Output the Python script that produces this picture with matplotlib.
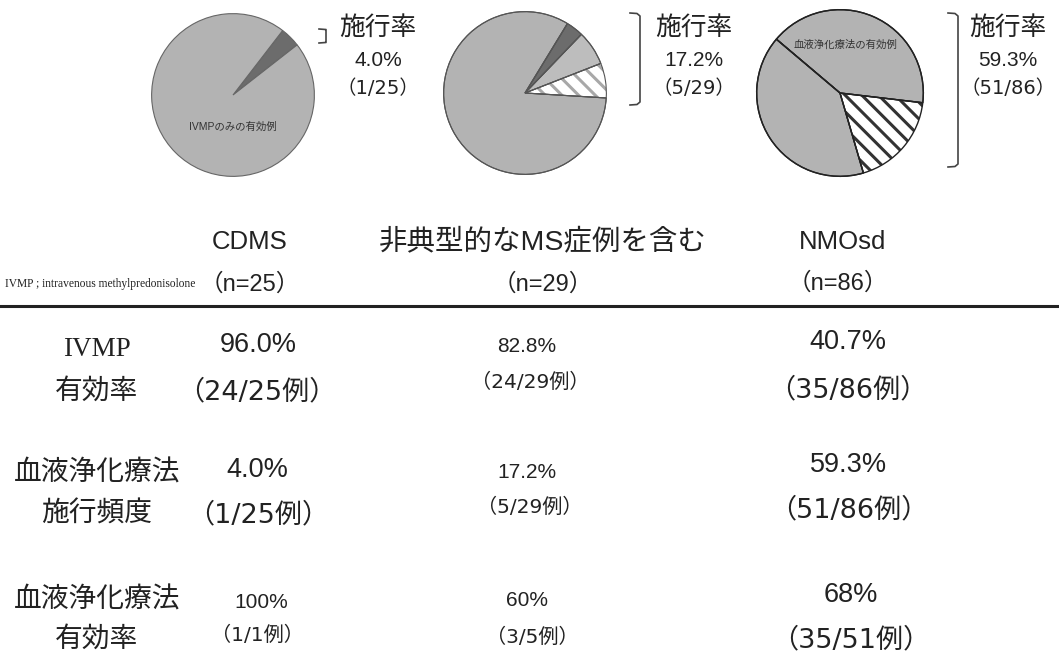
import matplotlib
matplotlib.use("Agg")
import matplotlib.pyplot as plt
from matplotlib.lines import Line2D

# ---------------- data ----------------
groups = ["CDMS", "非典型的なMS症例を含む", "NMOsd"]
group_n = ["（n=25）", "（n=29）", "（n=86）"]

# pie slices (counts)
pie1_values = [1, 24]              # PE effective, IVMP-only effective
pie2_values = [2, 2, 1, 24]        # PE ineffective, PE effective, PE effective, IVMP-only effective
pie3_values = [16, 35, 35]         # PE ineffective, PE effective, IVMP-only effective

pie_rate_title = "施行率"
pie_rate_pct = ["4.0%", "17.2%", "59.3%"]
pie_rate_frac = ["（1/25）", "（5/29）", "（51/86）"]
pie1_label = "IVMPのみの有効例"
pie3_label = "血液浄化療法の有効例"

row_labels = [("IVMP", "有効率"), ("血液浄化療法", "施行頻度"), ("血液浄化療法", "有効率")]
ivmp_pct = ["96.0%", "82.8%", "40.7%"]
ivmp_frac = ["（24/25例）", "（24/29例）", "（35/86例）"]
pe_freq_pct = ["4.0%", "17.2%", "59.3%"]
pe_freq_frac = ["（1/25例）", "（5/29例）", "（51/86例）"]
pe_eff_pct = ["100%", "60%", "68%"]
pe_eff_frac = ["（1/1例）", "（3/5例）", "（35/51例）"]
note = "IVMP ; intravenous methylpredonisolone"

# ---------------- figure ----------------
W, H = 1059, 655
plt.rcParams['font.family'] = ['Liberation Sans', 'Noto Sans CJK JP', 'DejaVu Sans']
plt.rcParams['hatch.linewidth'] = 2.2
fig = plt.figure(figsize=(W / 100, H / 100), dpi=100)
fig.patch.set_facecolor("white")
TXT = "#222222"
FRAC = ['DejaVu Sans', 'Noto Sans CJK JP']


def fx(x):
    return x / W


def fy(y):
    return 1 - y / H


def put(x, y, s, size, **kw):
    kw.setdefault("color", TXT)
    fig.text(fx(x), fy(y), s, fontsize=size, ha="center", va="center", **kw)


def pie_axes(cx, cy, r):
    ax = fig.add_axes([fx(cx - r), fy(cy + r), 2 * r / W, 2 * r / H])
    ax.set_axis_off()
    return ax


GREY = "#b3b3b3"
DARK = "#6c6c6c"

# pie 1
ax1 = pie_axes(233, 95, 83)
ax1.pie(pie1_values, colors=[DARK, GREY], startangle=38, counterclock=True,
        radius=1, wedgeprops=dict(edgecolor="#666666", linewidth=0.8))
ax1.set_xlim(-1.02, 1.02); ax1.set_ylim(-1.02, 1.02)
put(233, 127, pie1_label, 7.5, color="#333333")

# pie 2
ax2 = pie_axes(525, 93, 83)
w2, _ = ax2.pie(pie2_values, colors=["white", "#bdbdbd", DARK, GREY], startangle=-3.5,
                counterclock=True, radius=1,
                wedgeprops=dict(edgecolor="#555555", linewidth=0.8))
w2[0].set_hatch("\\\\")
w2[0].set_edgecolor("#a8a8a8")
w2[0].set_linewidth(0)
ax2.pie(pie2_values, colors=["none"] * 4, startangle=-3.5, counterclock=True, radius=1,
        wedgeprops=dict(edgecolor="#555555", linewidth=0.8, facecolor="none"))
ax2.set_xlim(-1.02, 1.02); ax2.set_ylim(-1.02, 1.02)

# pie 3
ax3 = pie_axes(840, 93, 85)
w3, _ = ax3.pie(pie3_values, colors=["white", GREY, GREY], startangle=-73.7,
                counterclock=True, radius=1,
                wedgeprops=dict(edgecolor="#222222", linewidth=1.0))
w3[0].set_hatch("\\\\")
w3[0].set_edgecolor("#333333")
w3[0].set_linewidth(0)
ax3.pie(pie3_values, colors=["none"] * 3, startangle=-73.7, counterclock=True, radius=1,
        wedgeprops=dict(edgecolor="#222222", linewidth=1.0, facecolor="none"))
ax3.set_xlim(-1.02, 1.02); ax3.set_ylim(-1.02, 1.02)
put(845, 45, pie3_label, 7.5, color="#333333")


# brackets
def bracket(x0, x1, top, bottom, c=3):
    xs = [fx(x0), fx(x1 - c), fx(x1), fx(x1), fx(x1 - c), fx(x0)]
    ys = [fy(top), fy(top + 0.5), fy(top + c), fy(bottom - c), fy(bottom - 0.5), fy(bottom)]
    fig.add_artist(Line2D(xs, ys, color="#444444", linewidth=1.2, transform=fig.transFigure))


bracket(319, 326, 29, 43, c=0.5)
bracket(630, 640, 13, 105)
bracket(948, 958, 13, 167)

pie_text_x = [378, 694, 1008]
for i in range(3):
    put(pie_text_x[i], 28, pie_rate_title, 18.5)
    put(pie_text_x[i], 60, pie_rate_pct[i], 15)
    put(pie_text_x[i], 88, pie_rate_frac[i], 14, family=FRAC)

# headers
col_x = [250, 543, 843]
for i in range(3):
    put(col_x[i], 242, groups[i], 18.5 if i != 1 else 20.5)
put(250, 285, group_n[0], 17)
put(543, 285, group_n[1], 17)
put(838, 283, group_n[2], 17)
fig.text(fx(5), fy(284), note, fontsize=8.3, ha="left", va="center", color=TXT,
         family=["Liberation Serif"])

# separator line
fig.add_artist(Line2D([0, 1], [fy(306), fy(306)], color="#222222", linewidth=2.2,
                      transform=fig.transFigure))

# row labels
put(97, 350, row_labels[0][0], 19.5, family=["Liberation Serif"])
put(97, 392, row_labels[0][1], 20)
put(97, 473, row_labels[1][0], 20)
put(97, 515, row_labels[1][1], 20)
put(97, 600, row_labels[2][0], 20)
put(97, 640, row_labels[2][1], 20)

BIG = 19.5
BIGF = 19.5
SMALL = 15
SMALLF = 14.5
# IVMP
put(258, 345, ivmp_pct[0], BIG)
put(257, 392, ivmp_frac[0], BIGF, family=FRAC)
put(527, 347, ivmp_pct[1], SMALL)
put(530, 382, ivmp_frac[1], SMALLF, family=FRAC)
put(848, 342, ivmp_pct[2], BIG)
put(848, 390, ivmp_frac[2], BIGF, family=FRAC)
# PE frequency
put(257, 470, pe_freq_pct[0], BIG)
put(258, 515, pe_freq_frac[0], BIGF, family=FRAC)
put(527, 473, pe_freq_pct[1], SMALL)
put(530, 507, pe_freq_frac[1], SMALLF, family=FRAC)
put(849, 465, pe_freq_pct[2], BIG)
put(849, 510, pe_freq_frac[2], BIGF, family=FRAC)
# PE efficacy
put(261, 602, pe_eff_pct[0], SMALL)
put(257, 635, pe_eff_frac[0], SMALLF, family=FRAC)
put(527, 600, pe_eff_pct[1], SMALL)
put(532, 637, pe_eff_frac[1], SMALLF, family=FRAC)
put(851, 595, pe_eff_pct[2], BIG)
put(851, 640, pe_eff_frac[2], BIGF, family=FRAC)

fig.savefig("out.png", dpi=100, facecolor="white")
